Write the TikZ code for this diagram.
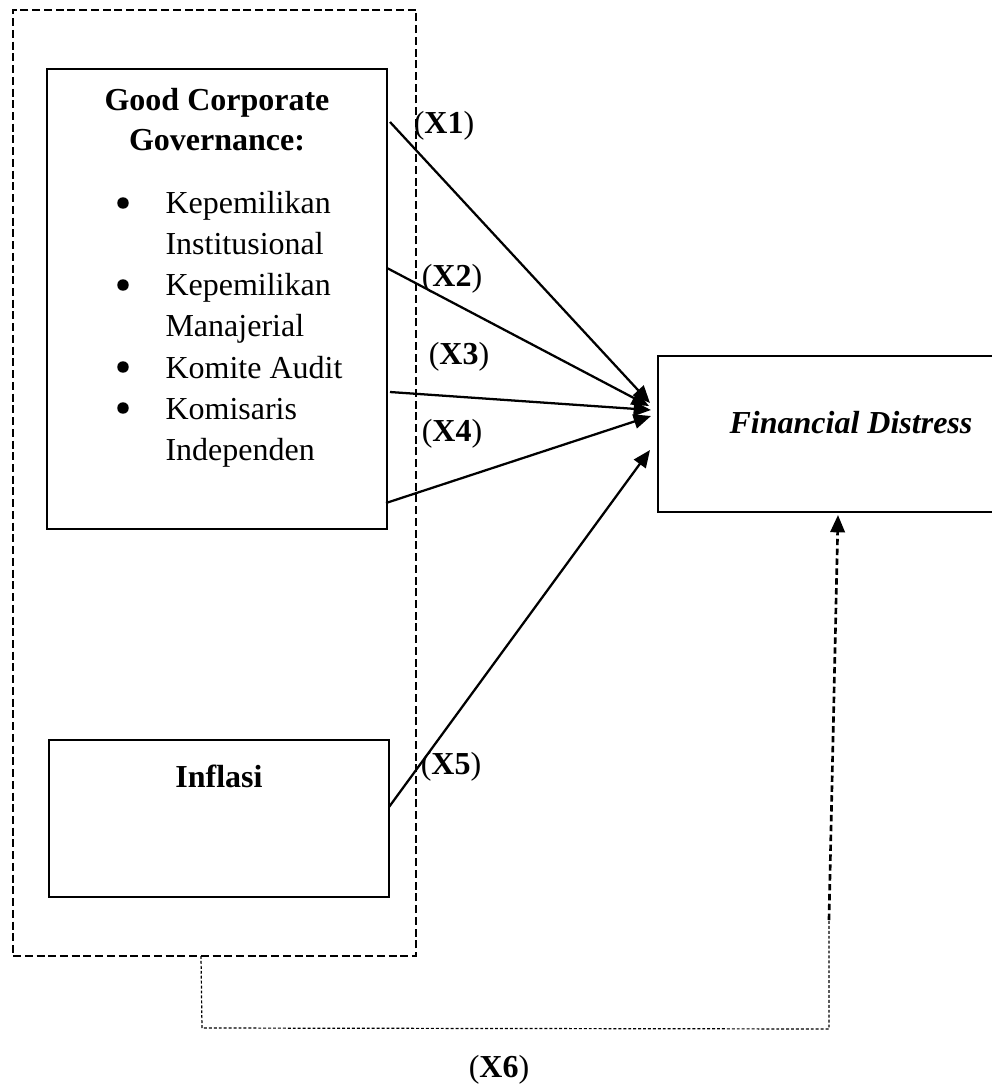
\documentclass[tikz,border=0pt]{standalone}
\usepackage{fontspec}
\setmainfont{Liberation Serif}
\usetikzlibrary{arrows.meta,positioning,calc}

\begin{document}
\begin{tikzpicture}[
  x=0.375pt, y=-0.375pt,
  every node/.style={font=\fontsize{12}{15}\selectfont},
  box/.style={draw, line width=1.05pt, inner sep=0pt},
  grpbox/.style={draw, line width=1pt, dash pattern=on 3pt off 1.4pt, inner sep=0pt},
  dot/.style={circle, fill=black, inner sep=0pt, minimum size=4.3pt},
  lab/.style={font=\fontsize{12}{15}\selectfont\bfseries, inner sep=0pt},
  xlab/.style={font=\fontsize{12}{15}\selectfont, inner sep=0pt},
  arr/.style={line width=0.85pt, -{Triangle[length=6.5pt, width=5.4pt]}},
  thindot/.style={line width=0.45pt, black, dash pattern=on 1.1pt off 0.75pt},
  dasharr/.style={line width=1pt, dash pattern=on 2.4pt off 1.3pt, -{Triangle[length=6.5pt, width=5.4pt]}}
]
\useasboundingbox (0,0) rectangle (992,1088);

% boxes
\node[grpbox, minimum width=151.1pt, minimum height=354.75pt] (grp) at (214.5,483) {};
\node[box, minimum width=127.5pt, minimum height=172.5pt] (gcg) at (217,299) {};
\node[box, minimum width=127.5pt, minimum height=58.9pt] (inf) at (219,818.5) {};
\node[box, minimum width=128.25pt, minimum height=58.5pt] (fd) at (829,434) {};

% texts
\node[lab, align=center, anchor=north] (gcgtitle) at (217,88) {Good Corporate\\Governance:};
\node[anchor=north west, align=left, inner sep=0pt, font=\fontsize{12}{15.4}\selectfont] (gcglist) at (165,191)
  {Kepemilikan\\Institusional\\Kepemilikan\\Manajerial\\Komite Audit\\Komisaris\\Independen};
\node[dot] (b1) at (123,203) {};
\node[dot] (b2) at (123,285) {};
\node[dot] (b3) at (123,367) {};
\node[dot] (b4) at (123,408) {};
\node[lab, anchor=base] (inftext) at (219,787) {Inflasi};
\node[lab, font=\fontsize{12}{15}\selectfont\bfseries\itshape, anchor=base] (fdtext) at (851,433) {Financial Distress};

% path labels
\node[xlab] (l1) at (444,126) {(\textbf{X1})};
\node[xlab] (l2) at (452,279) {(\textbf{X2})};
\node[xlab] (l3) at (459,357) {(\textbf{X3})};
\node[xlab] (l4) at (452,434) {(\textbf{X4})};
\node[xlab] (l5) at (451,767) {(\textbf{X5})};
\node[xlab] (l6) at (499,1070) {(\textbf{X6})};

% arrows
\coordinate (s1) at (390,122);
\coordinate (s2) at (387,268);
\coordinate (s3) at (390,392);
\coordinate (s4) at (386,503);
\coordinate (s5) at (389,807);
\coordinate (t1) at (650,403);
\coordinate (t2) at (649,406);
\coordinate (t3) at (651,410);
\coordinate (t4) at (651,416);
\coordinate (t5) at (650,450);
\draw[arr] (s1) -- (t1);
\draw[arr] (s2) -- (t2);
\draw[arr] (s3) -- (t3);
\draw[arr] (s4) -- (t4);
\draw[arr] (s5) -- (t5);

% simultaneous path
\coordinate (g6) at (201,956);
\coordinate (c6a) at (202,1028);
\coordinate (c6b) at (829,1029);
\coordinate (c6c) at (829,920);
\coordinate (t6) at (838,515);
\draw[thindot] (g6) -- (c6a) -- (c6b) -- (c6c);
\draw[dasharr] (c6c) -- (t6);
\end{tikzpicture}
\end{document}
